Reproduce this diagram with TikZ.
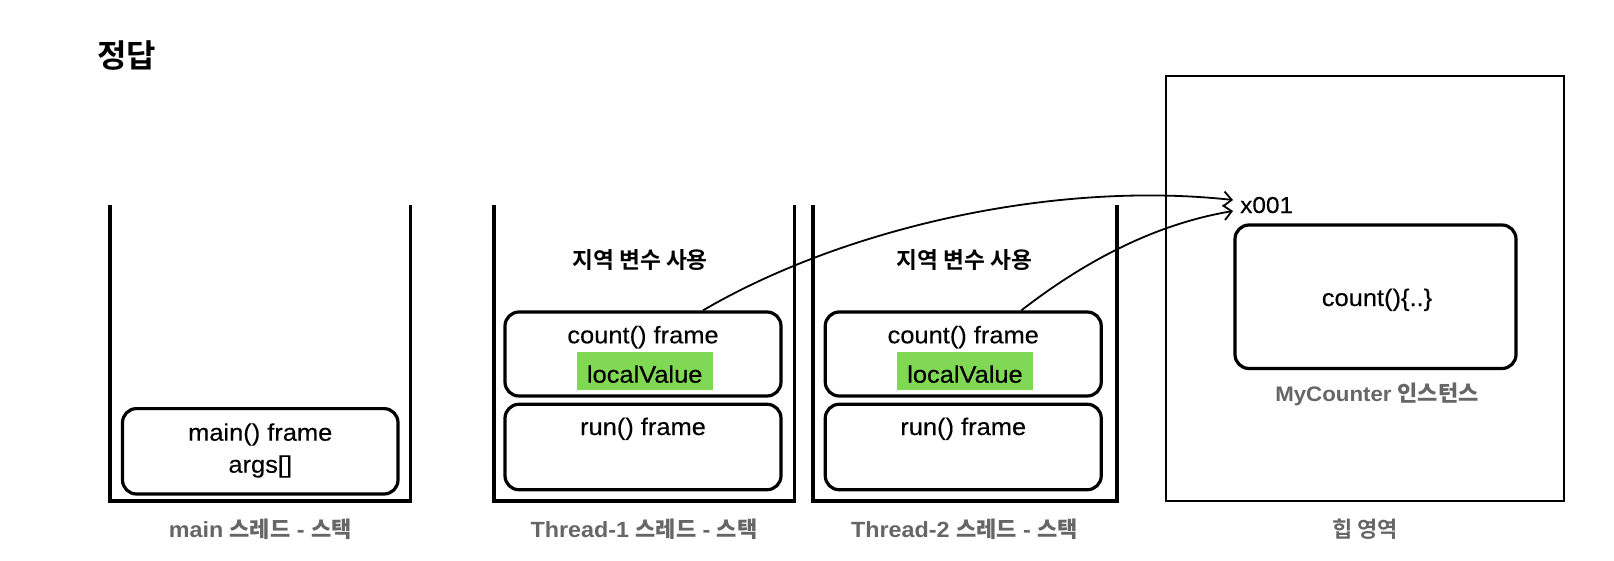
\documentclass[tikz,border=0pt]{standalone}
\usepackage{fontspec}
\setmainfont{Liberation Sans}[FakeStretch=1.06, UprightFeatures={FakeBold=0.3}]
\newfontfamily\kob{Noto Sans CJK KR Bold}
\usetikzlibrary{arrows.meta,calc}
\definecolor{hl}{HTML}{80D855}
\definecolor{lbl}{HTML}{666666}
\tikzset{
  wall/.style={line width=3.2pt},
  frm/.style={draw, line width=3.2pt, rounded corners=14pt, inner sep=0pt},
  txt/.style={inner sep=0pt, anchor=base, font=\fontsize{24}{28}\selectfont},
  lab/.style={inner sep=0pt, anchor=base, text=lbl, font=\fontsize{22}{26}\selectfont\bfseries},
  kot/.style={inner sep=0pt, anchor=base, font=\fontsize{22.7}{26}\selectfont\kob},
  ref/.style={line width=1.8pt, -{Straight Barb[length=8pt,width=15pt,line width=1.8pt]}},
}
\begin{document}
\begin{tikzpicture}[x=1pt,y=-1pt]
\useasboundingbox (0,0) rectangle (1614,560);
% title
\node[inner sep=0pt, anchor=base west, font=\fontsize{32}{36}\selectfont\kob] (title) at (97,67) {정답};
% stacks
\draw[wall] (110,205) -- (110,501) -- (410.7,501) -- (410.7,205);
\draw[wall] (494,205) -- (494,501) -- (794.6,501) -- (794.6,205);
\draw[wall] (813,205) -- (813,501) -- (1117,501) -- (1117,205);
% heap
\draw[line width=2.8pt] (1166,76) rectangle (1564,501);
% main stack frame
\node[frm, minimum width=275.5pt, minimum height=85.4pt] (mf) at (260.25,451.3) {};
\node[txt] (mft) at (260.25,440.7) {main() frame};
\node[txt] (mfa) at (260.25,472.7) {args[]};
% thread-1
\node[kot] (u1) at (640,268.5) {지역 변수 사용};
\node[frm, minimum width=276pt, minimum height=84pt] (c1) at (643,354) {};
\node[txt] (c1t) at (643,343.3) {count() frame};
\node[fill=hl, minimum width=136pt, minimum height=37.7pt, inner sep=0pt] (h1) at (644.7,371.2) {};
\node[txt] (c1v) at (644.7,382.7) {localValue};
\node[frm, minimum width=276pt, minimum height=85.5pt] (r1) at (643,447) {};
\node[txt] (r1t) at (643,435) {run() frame};
% thread-2
\node[kot] (u2) at (964.5,268.5) {지역 변수 사용};
\node[frm, minimum width=276pt, minimum height=84pt] (c2) at (963.25,354) {};
\node[txt] (c2t) at (963.25,343.3) {count() frame};
\node[fill=hl, minimum width=136pt, minimum height=37.7pt, inner sep=0pt] (h2) at (965,371.2) {};
\node[txt] (c2v) at (965,382.7) {localValue};
\node[frm, minimum width=276pt, minimum height=85.5pt] (r2) at (963.25,447) {};
\node[txt] (r2t) at (963.25,435) {run() frame};
% heap content
\node[frm, minimum width=281pt, minimum height=143.5pt] (inst) at (1375.5,296.75) {};
\node[txt] (instt) at (1377,306) {count()\{..\}};
\node[lab, font=\fontsize{21}{25}\selectfont\bfseries] (instl) at (1377,401) {MyCounter {\fontsize{22}{26}\selectfont\kob 인스턴스}};
\node[txt, anchor=base west, font=\fontsize{23}{27}\selectfont] (addr) at (1240,213) {x001};
\coordinate (tip1) at (1233,200);
\coordinate (tip2) at (1233,211);
% labels
\node[lab] (l0) at (260.25,537) {main {\kob 스레드} - {\kob 스택}};
\node[lab] (l1) at (644,537) {Thread-1 {\kob 스레드} - {\kob 스택}};
\node[lab] (l2) at (964.5,537) {Thread-2 {\kob 스레드} - {\kob 스택}};
\node[lab, font=\fontsize{22}{26}\selectfont\kob] (l3) at (1365,537) {힙 영역};
% references
\draw[ref] ($(c1.north)+(60,0)$) .. controls (840,230) and (1050,180) .. (tip1);
\draw[ref] ($(c2.north)+(58,0)$) .. controls (1080,265) and (1150,225) .. (tip2);
\end{tikzpicture}
\end{document}
